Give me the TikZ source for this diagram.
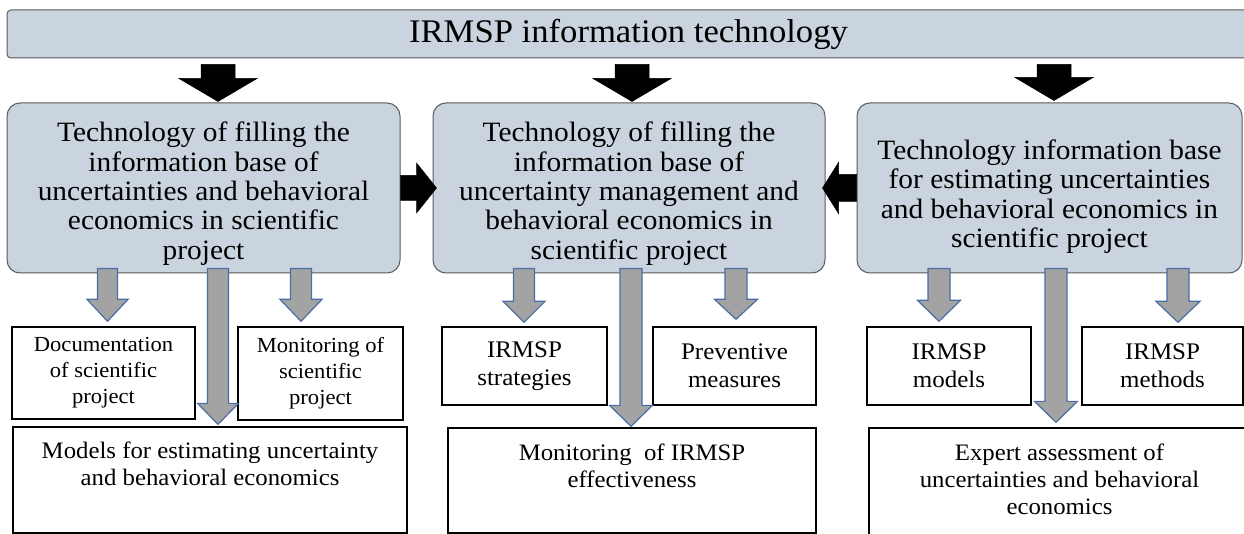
\documentclass[tikz,border=0pt]{standalone}
\usepackage{fontspec}
\setmainfont{Liberation Serif}[FakeStretch=1.05]
\usetikzlibrary{calc}
\definecolor{boxfill}{RGB}{201,212,222}
\definecolor{boxline}{RGB}{90,90,90}
\definecolor{arrfill}{RGB}{163,163,163}
\definecolor{arrline}{RGB}{75,110,165}
% #1 style, #2 tail, #3 tip, #4 half shaft width, #5 half head width, #6 head length
\newcommand\blockarrow[6]{%
  \path (#2) coordinate (ba-t) (#3) coordinate (ba-h);
  \path ($(ba-h)!#6!(ba-t)$) coordinate (ba-b);
  \filldraw[#1] ($(ba-t)!#4!90:(ba-h)$) -- ($(ba-b)!#4!90:(ba-h)$) -- ($(ba-b)!#5!90:(ba-h)$) -- (ba-h)
     -- ($(ba-b)!#5!-90:(ba-h)$) -- ($(ba-b)!#4!-90:(ba-h)$) -- ($(ba-t)!#4!-90:(ba-h)$) -- cycle;}
\newcommand\lowerby[1]{\rule{0pt}{#1}}
\begin{document}
\begin{tikzpicture}[x=1pt,y=-1pt,
  banner/.style={draw=boxline, fill=boxfill, line width=1, rounded corners=4, inner sep=0,
     font=\fontsize{33}{36}\selectfont},
  bigbox/.style={draw=boxline, fill=boxfill, line width=1, rounded corners=13, inner sep=0,
     align=center, font=\fontsize{28}{29.3}\selectfont},
  smallL/.style={draw=black, fill=white, line width=1.3, inner sep=0, align=center,
     font=\fontsize{21.5}{26}\selectfont},
  smallR/.style={draw=black, fill=white, line width=1.3, inner sep=0, align=center,
     font=\fontsize{23.8}{28}\selectfont},
  botbox/.style={draw=black, fill=white, line width=1.3, inner sep=0},
  bottext/.style={inner sep=0, align=center, anchor=north, font=\fontsize{23.6}{27}\selectfont},
  blackarr/.style={fill=black, draw=black, line width=0.5},
  grayarr/.style={fill=arrfill, draw=arrline, line width=1.2}
]
\clip (0,0) rectangle (1244,534);
\fill[white] (0,0) rectangle (1244,534);

\node[banner, minimum width=1243, minimum height=48] (top) at (628.5,34) {IRMSP information technology};

\node[bigbox, minimum width=393, minimum height=170] (A) at (203.5,188)
  {\lowerby{31pt}Technology of filling the\\information base of\\uncertainties and behavioral\\economics in scientific\\project};
\node[bigbox, minimum width=392, minimum height=170] (B) at (629,188)
  {\lowerby{31pt}Technology of filling the\\information base of\\uncertainty management and\\behavioral economics in\\scientific project};
\node[bigbox, minimum width=385, minimum height=170] (C) at (1049.5,188)
  {\lowerby{37pt}Technology information base\\for estimating uncertainties\\and behavioral economics in\\scientific project};

\node[smallL, minimum width=183, minimum height=92] (D1) at (103.5,373) {Documentation\\of scientific\\project};
\node[smallL, minimum width=165, minimum height=93] (D2) at (320.5,373.5) {Monitoring of\\scientific\\project};
\node[smallR, minimum width=165, minimum height=78] (E1) at (524.5,366) {IRMSP\\strategies};
\node[smallR, minimum width=163, minimum height=78] (E2) at (734.5,366) {Preventive\\measures};
\node[smallR, minimum width=164, minimum height=78] (F1) at (949,366) {IRMSP\\models};
\node[smallR, minimum width=161, minimum height=78] (F2) at (1162.5,366) {IRMSP\\methods};

\node[botbox, minimum width=394, minimum height=106] (G1) at (210,480) {};
\node[botbox, minimum width=368, minimum height=105] (G2) at (632,480.5) {};
\node[botbox, minimum width=381, minimum height=112] (G3) at (1059.5,484) {};
\node[bottext] (G1t) at ($(G1.north)+(0,15)$) {Models for estimating uncertainty\\and behavioral economics};
\node[bottext] (G2t) at ($(G2.north)+(0,16)$) {Monitoring\ \ of IRMSP\\effectiveness};
\node[bottext] (G3t) at ($(G3.north)+(0,16)$) {Expert assessment of\\uncertainties and behavioral\\economics};

% black arrows
\blockarrow{blackarr}{$(top.south -| 218,0)+(0,6)$}{$(A.north -| 218,0)+(0,-1)$}{17pt}{39pt}{23pt}
\blockarrow{blackarr}{$(top.south -| 632,0)+(0,6)$}{$(B.north -| 632,0)+(0,-1)$}{17pt}{39pt}{23pt}
\blockarrow{blackarr}{$(top.south -| 1054,0)+(0,6)$}{$(C.north -| 1054,0)+(0,-2)$}{17pt}{39pt}{23pt}
\blockarrow{blackarr}{A.east}{$(B.west)+(4,0)$}{12.5pt}{25pt}{20pt}
\blockarrow{blackarr}{C.west}{$(B.east)+(-3,0)$}{13.5pt}{25.5pt}{16pt}

% gray arrows
\blockarrow{grayarr}{$(A.south -| 107.5,0)+(0,-5)$}{$(D1.north -| 107.5,0)+(0,-5)$}{10pt}{20.5pt}{22pt}
\blockarrow{grayarr}{$(A.south -| 218,0)+(0,-5)$}{$(G1.north -| 218,0)+(0,-2)$}{10.5pt}{20.5pt}{21pt}
\blockarrow{grayarr}{$(A.south -| 301,0)+(0,-5)$}{$(D2.north -| 301,0)+(0,-5)$}{10.5pt}{21pt}{22pt}
\blockarrow{grayarr}{$(B.south -| 524,0)+(0,-5)$}{$(E1.north -| 524,0)+(0,-4)$}{10.5pt}{21pt}{21pt}
\blockarrow{grayarr}{$(B.south -| 631,0)+(0,-5)$}{$(G2.north -| 631,0)+(0,-1)$}{11pt}{21.5pt}{21pt}
\blockarrow{grayarr}{$(B.south -| 736,0)+(0,-5)$}{$(E2.north -| 736,0)+(0,-7)$}{11pt}{21.5pt}{20pt}
\blockarrow{grayarr}{$(C.south -| 939,0)+(0,-5)$}{$(F1.north -| 939,0)+(0,-5)$}{11pt}{21.5pt}{21pt}
\blockarrow{grayarr}{$(C.south -| 1056,0)+(0,-5)$}{$(G3.north -| 1056,0)+(0,-5)$}{11pt}{21.5pt}{21pt}
\blockarrow{grayarr}{$(C.south -| 1178,0)+(0,-5)$}{$(F2.north -| 1178,0)+(0,-4)$}{11pt}{22pt}{21pt}
\end{tikzpicture}
\end{document}
